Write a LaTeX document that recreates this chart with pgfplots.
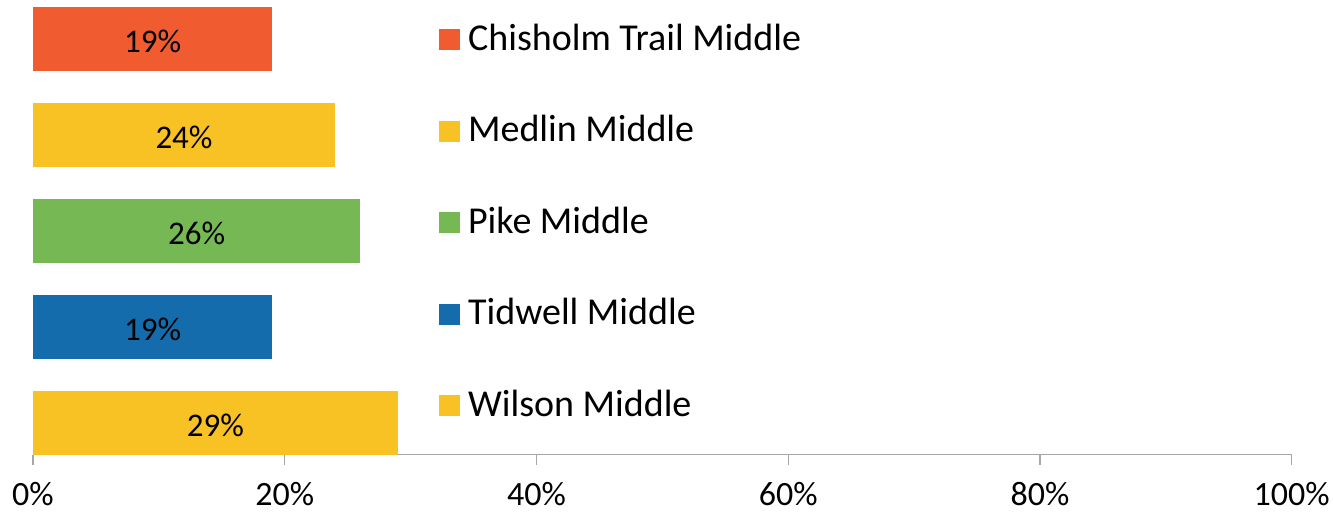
\documentclass[border=0pt]{standalone}
\usepackage{pgfplots}
\pgfplotsset{compat=1.18}
\usepackage{fontspec}
\setmainfont{Carlito}
\definecolor{cOrange}{RGB}{240,91,48}
\definecolor{cYellow}{RGB}{248,193,36}
\definecolor{cGreen}{RGB}{118,185,84}
\definecolor{cBlue}{RGB}{21,108,172}
\definecolor{axgray}{RGB}{166,166,166}
\begin{document}
\begin{tikzpicture}
\begin{axis}[
  scale only axis, width=1259pt, height=455pt,
  xmin=0, xmax=100, ymin=-0.33333, ymax=4.40625,
  /pgf/number format/assume math mode=true,
  xbar, bar width=64pt,
  axis x line*=bottom, axis y line=none,
  x axis line style={draw=axgray, line width=1.2pt, -},
  xtick={0,20,40,60,80,100},
  xticklabel={\pgfmathprintnumber{\tick}\%},
  tick style={draw=axgray, line width=1.2pt},
  major tick length=10pt, tick align=outside,
  xticklabel style={font=\fontsize{34}{34}\selectfont, yshift=-14pt},
  ytick=\empty,
  clip=false,
  point meta=x,
  nodes near coords={\pgfmathprintnumber{\pgfplotspointmeta}\%},
  visualization depends on={rawx \as \rawx},
  every node near coord/.append style={anchor=center, xshift={-\rawx*6.295pt}, yshift=-2pt, font=\fontsize{33}{33}\selectfont, text=black},
  legend image code/.code={\fill[#1, draw=none] (0pt,-10pt) rectangle (21pt,11pt);},
  legend cell align=left,
  legend style={at={(axis description cs:0.3225,0.943)}, anchor=north west, draw=none, fill=none,
    inner sep=0pt, row sep=63.5pt, font=\fontsize{38}{38}\selectfont,
    nodes={inner sep=0pt, text height=24pt, text depth=4pt},
    /tikz/every even column/.append style={column sep=0pt}},
  mybar/.style={fill=#1, draw=none, bar shift=0pt},
]
\addplot[mybar=cOrange] coordinates {(19,4)};
\addlegendentry{\hspace{8pt}Chisholm Trail Middle}
\addplot[mybar=cYellow] coordinates {(24,3)};
\addlegendentry{\hspace{8pt}Medlin Middle}
\addplot[mybar=cGreen] coordinates {(26,2)};
\addlegendentry{\hspace{8pt}Pike Middle}
\addplot[mybar=cBlue] coordinates {(19,1)};
\addlegendentry{\hspace{8pt}Tidwell Middle}
\addplot[mybar=cYellow] coordinates {(29,0)};
\addlegendentry{\hspace{8pt}Wilson Middle}
\end{axis}
\path ([xshift=-33pt,yshift=-57pt]current axis.south west) rectangle ([xshift=41pt]current axis.north east);
\end{tikzpicture}
\end{document}
